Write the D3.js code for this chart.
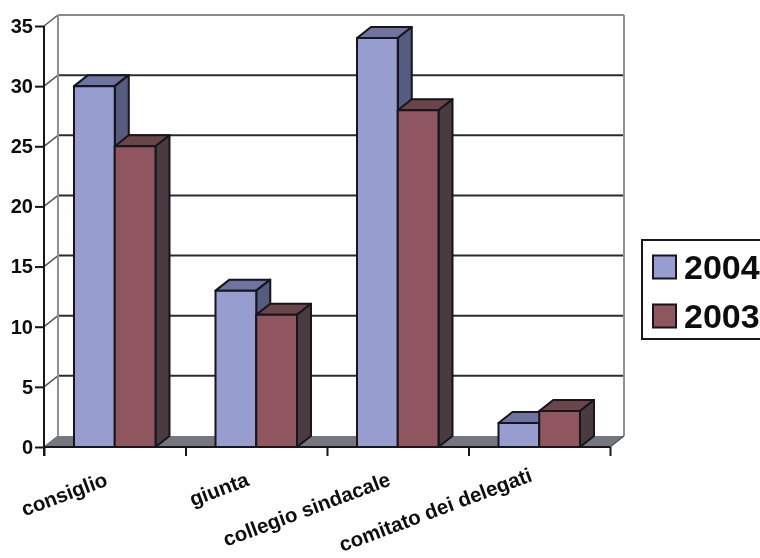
<!DOCTYPE html>
<html><head><meta charset="utf-8">
<script src="https://cdn.jsdelivr.net/npm/d3@7"></script>
<style>
html,body{margin:0;padding:0;background:#fff;overflow:hidden}
text{font-family:"Liberation Sans",Arial,sans-serif;font-weight:bold;fill:#111}
</style></head><body>
<svg id="c" width="760" height="558"></svg>
<script>
const categories = ["consiglio","giunta","collegio sindacale","comitato dei delegati"];
const seriesNames = ["2004","2003"];
const values2004 = [30,13,34,2];
const values2003 = [25,11,28,3];
const yTicks = [0,5,10,15,20,25,30,35];

const frontColors = {"2004":"#989dd0","2003":"#8f565f"};
const topColors = {"2004":"#6f739f","2003":"#6a4449"};
const sideColors = {"2004":"#565b80","2003":"#483b41"};
const ink = "#14141c";
const dx = 14, dy = -11;

const svg = d3.select("#c");
const defs = svg.append("defs");
defs.append("filter").attr("id","soft").append("feGaussianBlur").attr("stdDeviation",0.45);
const root = svg.append("g").attr("filter","url(#soft)");

const y = d3.scaleLinear().domain([0,35]).range([447,26]);
const x0 = d3.scaleBand().domain(categories).range([44,610]).paddingInner(0.424).paddingOuter(0.212);
const x1 = d3.scaleBand().domain(seriesNames).range([0,x0.bandwidth()]);
const xEdge = d3.scaleLinear().domain([0,categories.length]).range([44,610]);

// floor and walls
const xL = xEdge.range()[0], xR = xEdge.range()[1];
root.append("path")
  .attr("d",`M${xL},${y(0)}L${xL+dx},${y(0)+dy}L${xR+dx},${y(0)+dy}L${xR},${y(0)}Z`)
  .attr("fill","#76767e");
// gridlines
yTicks.filter(d=>d>0).forEach(d=>{
  const yy=y(d)+dy, top=d===35;
  root.append("line").attr("x1",xL+dx).attr("x2",xR+dx).attr("y1",yy).attr("y2",yy)
    .attr("stroke",top?"#8a8a8a":"#2c2c30").attr("stroke-width",2);
});
yTicks.forEach(d=>{
  root.append("line").attr("x1",xL).attr("x2",xL+dx).attr("y1",y(d)).attr("y2",y(d)+dy)
    .attr("stroke",d===0?"#76767e":"#55555a").attr("stroke-width",1.5);
});
[xL+dx,xR+dx].forEach(v=>{
  root.append("line").attr("x1",v).attr("x2",v).attr("y1",y(35)+dy).attr("y2",y(0)+dy)
    .attr("stroke","#8f9292").attr("stroke-width",2);
});
root.append("line").attr("x1",xR).attr("x2",xR+dx).attr("y1",y(0)).attr("y2",y(0)+dy)
  .attr("stroke","#55555a").attr("stroke-width",1.5);

// bars: 2004 first so that 2003 overlaps its side face
const series = [{name:"2004",vals:values2004},{name:"2003",vals:values2003}];
series.forEach(s=>{
  const g = root.append("g").attr("stroke",ink).attr("stroke-width",2).attr("stroke-linejoin","round");
  const rows = categories.map((c,i)=>({c,v:s.vals[i]}));
  const bx = d=>x0(d.c)+x1(s.name), bw=x1.bandwidth();
  g.selectAll(".top").data(rows).join("path")
    .attr("fill",topColors[s.name])
    .attr("d",d=>`M${bx(d)},${y(d.v)}l${dx},${dy}h${bw}l${-dx},${-dy}Z`);
  g.selectAll(".side").data(rows).join("path")
    .attr("fill",sideColors[s.name])
    .attr("d",d=>`M${bx(d)+bw},${y(d.v)}l${dx},${dy}V${y(0)+dy}L${bx(d)+bw},${y(0)}Z`);
  g.selectAll(".front").data(rows).join("rect")
    .attr("fill",frontColors[s.name])
    .attr("x",bx).attr("y",d=>y(d.v)).attr("width",bw).attr("height",d=>y(0)-y(d.v));
});

// axes
const yAxis = root.append("g").attr("transform",`translate(${xL},0)`)
  .call(d3.axisLeft(y).tickValues(yTicks).tickSize(9).tickPadding(1));
yAxis.selectAll("text").attr("font-size",20).attr("dx",-1);
const xAxis = root.append("g").attr("transform",`translate(0,${y(0)})`)
  .call(d3.axisBottom(xEdge).ticks(categories.length).tickSize(9).tickFormat(""));
[yAxis,xAxis].forEach(a=>{
  a.selectAll("path,line").attr("stroke",ink).attr("stroke-width",2);
  a.select(".domain").attr("d",a===yAxis?`M0,${y(35)}V${y(0)+9}`:`M${xL},0H${xR}`);
});

// category labels: end-anchored, lifted only if a label would run off the bottom
const labelAngle = 20.5, labelSize = 20.5, labelEndY = 485;
root.selectAll(".cat").data(categories).join("text")
  .attr("class","cat")
  .attr("text-anchor","end")
  .attr("font-size",labelSize)
  .text(d=>d)
  .attr("transform",function(d){
    const rad = labelAngle*Math.PI/180;
    const len = this.getComputedTextLength();
    const bottom = labelEndY + len*Math.sin(rad) + labelSize*0.24;
    const lift = Math.max(0,bottom-557);
    return `translate(${x0(d)+x0.bandwidth()/2-6},${labelEndY-lift}) rotate(${-labelAngle})`;
  });

// legend
const leg = root.append("g");
leg.append("rect").attr("x",642).attr("y",240).attr("width",130).attr("height",99)
  .attr("fill","#fff").attr("stroke",ink).attr("stroke-width",2);
const legY = d3.scalePoint().domain(seriesNames).range([267,316]);
seriesNames.forEach(n=>{
  leg.append("rect").attr("x",653).attr("y",legY(n)-11.5).attr("width",23).attr("height",23)
    .attr("fill",frontColors[n]).attr("stroke",ink).attr("stroke-width",2);
  leg.append("text").attr("x",684).attr("y",legY(n)+12).attr("font-size",34).text(n);
});
</script>
</body></html>
